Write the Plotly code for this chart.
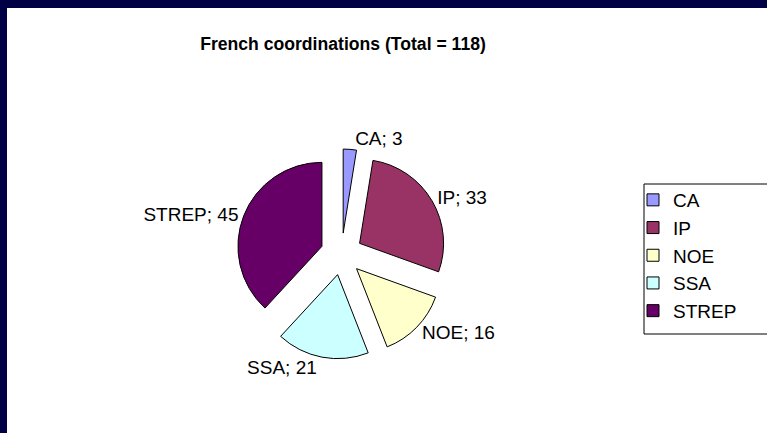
import plotly.graph_objects as go

categories = ["CA", "IP", "NOE", "SSA", "STREP"]
values = [3, 33, 16, 21, 45]
colors = ["#9999FF", "#993366", "#FFFFCC", "#CCFFFF", "#660066"]

W, H = 767, 433

def px(x):
    return x / W

def py(y):
    return 1 - y / H

cx, cy, half = 341.5, 254.0, 105.0
FONT = "Liberation Sans, Arial"

fig = go.Figure(
    go.Pie(
        labels=categories,
        values=values,
        sort=False,
        direction="clockwise",
        rotation=0,
        pull=[0.25] * len(values),
        marker=dict(colors=colors, line=dict(color="black", width=1)),
        texttemplate="%{label}; %{value}",
        textposition="outside",
        outsidetextfont=dict(family=FONT, size=19, color="black"),
        domain=dict(x=[px(cx - half), px(cx + half)], y=[py(cy + half), py(cy - half)]),
        hoverinfo="label+value",
    )
)

fig.update_layout(
    width=W,
    height=H,
    margin=dict(l=0, r=0, t=0, b=0),
    paper_bgcolor="white",
    plot_bgcolor="white",
    font=dict(family=FONT, size=19, color="black"),
    title=dict(
        text="<b>French coordinations (Total = 118)</b>",
        x=px(343), xanchor="center", xref="paper",
        y=py(44), yanchor="middle", yref="paper",
        font=dict(family=FONT, size=17.6, color="black"),
    ),
    legend=dict(
        x=px(633), xanchor="left",
        y=py(181), yanchor="top",
        borderwidth=0,
        bgcolor="rgba(0,0,0,0)",
        font=dict(family=FONT, size=19, color="black"),
        itemwidth=30,
    ),
    shapes=[
        dict(type="rect", xref="paper", yref="paper", x0=px(644), x1=px(780),
             y0=py(334), y1=py(184), fillcolor="rgba(0,0,0,0)",
             line=dict(color="black", width=1), layer="below"),
        dict(type="rect", xref="paper", yref="paper", x0=0, x1=px(7), y0=0, y1=1,
             fillcolor="#000044", line=dict(width=0), layer="above"),
        dict(type="rect", xref="paper", yref="paper", x0=0, x1=1, y0=py(8), y1=1,
             fillcolor="#000044", line=dict(width=0), layer="above"),
    ],
)

fig.write_html(
    "out.html",
    config={"displayModeBar": False},
    post_script="document.body.style.margin='0';",
)
